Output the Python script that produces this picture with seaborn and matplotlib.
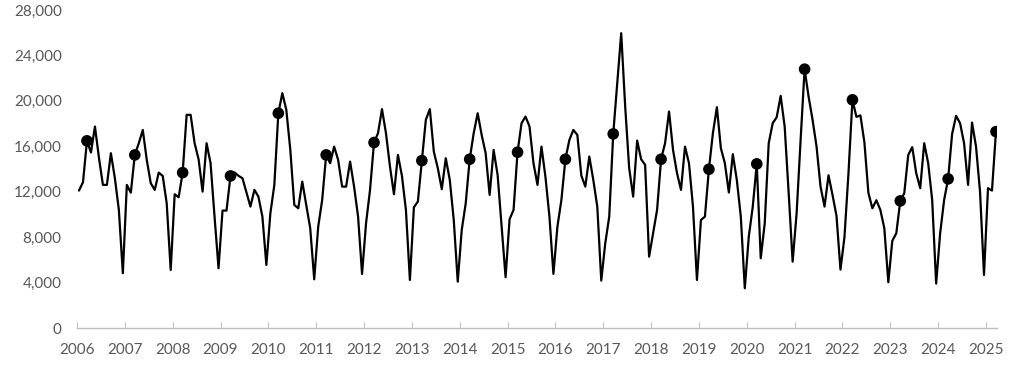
import numpy as np
import pandas as pd
import matplotlib
matplotlib.use("Agg")
import matplotlib.pyplot as plt
import seaborn as sns
from matplotlib.ticker import FuncFormatter

# monthly values, Jan 2006 .. Mar 2025
monthly_values = [
    12100, 12830, 16480, 15450, 17740, 15000, 12600, 12600, 15390, 13190, 10400, 4820,   # 2006
    12600, 11920, 15240, 16270, 17440, 14800, 12750, 12160, 13680, 13390, 10980, 5110,   # 2007
    11780, 11510, 13680, 18770, 18770, 16270, 14860, 12010, 16270, 14510, 9810, 5260,    # 2008
    10340, 10340, 13390, 13700, 13400, 13190, 11930, 10690, 12160, 11570, 9810, 5550,    # 2009
    10100, 12600, 18910, 20680, 19210, 15700, 10840, 10540, 12890, 10840, 8780, 4290,    # 2010
    8920, 11280, 15240, 14510, 15970, 14800, 12450, 12450, 14650, 12450, 9810, 4760,     # 2011
    9220, 12160, 16330, 17150, 19270, 17150, 14220, 11780, 15240, 13400, 10400, 4230,    # 2012
    10630, 11130, 14740, 18330, 19270, 15530, 14070, 12220, 14950, 13040, 9510, 4080,    # 2013
    8630, 10980, 14860, 17150, 18910, 17000, 15390, 11720, 15680, 13480, 8920, 4470,     # 2014
    9570, 10400, 15480, 18030, 18620, 17740, 14510, 12600, 15970, 13300, 9810, 4760,     # 2015
    8920, 11280, 14860, 16560, 17440, 17000, 13420, 12450, 15100, 13040, 10690, 4170,    # 2016
    7460, 9810, 17090, 21560, 25960, 19500, 14070, 11570, 16500, 14860, 14360, 6280,     # 2017
    8340, 10400, 14860, 16270, 19060, 15680, 13630, 12160, 15970, 14510, 10690, 4230,    # 2018
    9510, 9810, 13980, 17150, 19440, 15830, 14510, 11930, 15300, 13040, 9810, 3500,      # 2019
    8040, 10690, 14450, 6140, 9220, 16270, 18030, 18560, 20440, 17740, 11930, 5840,      # 2020
    10100, 16560, 22790, 20380, 18330, 15970, 12450, 10690, 13450, 11720, 9880, 5140,    # 2021
    8000, 13600, 20090, 18590, 18720, 16350, 11900, 10540, 11250, 10400, 8780, 4030,     # 2022
    7680, 8340, 11190, 11870, 15240, 15920, 13630, 12310, 16270, 14510, 11280, 3910,     # 2023
    8340, 11280, 13130, 17080, 18680, 18030, 16270, 12600, 18090, 15970, 12010, 4670,    # 2024
    12310, 12100, 17290,                                                                 # 2025
]

# March values marked with dots
march_years = list(range(2006, 2026))
march_values = [16480, 15240, 13680, 13390, 18910, 15240, 16330, 14740, 14860, 15480,
                14860, 17090, 14860, 13980, 14450, 22790, 20090, 11190, 13130, 17290]

year_ticks = list(range(2006, 2026))

n = len(monthly_values)
years = [2006 + i // 12 for i in range(n)]
months = [i % 12 for i in range(n)]
df = pd.DataFrame({"year": years, "month": months, "value": monthly_values})
df["t"] = df["year"] + (df["month"] + 0.5) / 12

dots = pd.DataFrame({"year": march_years, "value": march_values})
dots["t"] = dots["year"] + 2.5 / 12

sns.set_theme(style="white")
plt.rcParams["font.family"] = ["Lato", "DejaVu Sans"]

fig = plt.figure(figsize=(10.24, 3.77), dpi=100)
ax = fig.add_axes([77 / 1024, 49 / 377, 920 / 1024, 318 / 377])

sns.lineplot(data=df, x="t", y="value", color="black", linewidth=1.6, ax=ax)
sns.scatterplot(data=dots, x="t", y="value", color="black", s=70, edgecolor="none",
                zorder=5, ax=ax)

ax.set_xlim(2006, 2025.23)
ax.set_ylim(0, 28000)
ax.set_xticks(year_ticks)
ax.set_xticklabels([str(y) for y in year_ticks])
ax.set_yticks(range(0, 28001, 4000))
ax.yaxis.set_major_formatter(FuncFormatter(lambda v, p: f"{int(v):,}"))
ax.set_xlabel("")
ax.set_ylabel("")

for side in ["left", "right", "top"]:
    ax.spines[side].set_visible(False)
ax.spines["bottom"].set_color("#bfbfbf")
ax.spines["bottom"].set_linewidth(1.0)

ax.tick_params(axis="x", direction="in", length=4, width=0.8, color="#bfbfbf",
               labelsize=11, labelcolor="#595959", pad=11, bottom=True)
ax.tick_params(axis="y", length=0, labelsize=11, labelcolor="#595959", pad=11)

fig.savefig("out.png", dpi=100)
